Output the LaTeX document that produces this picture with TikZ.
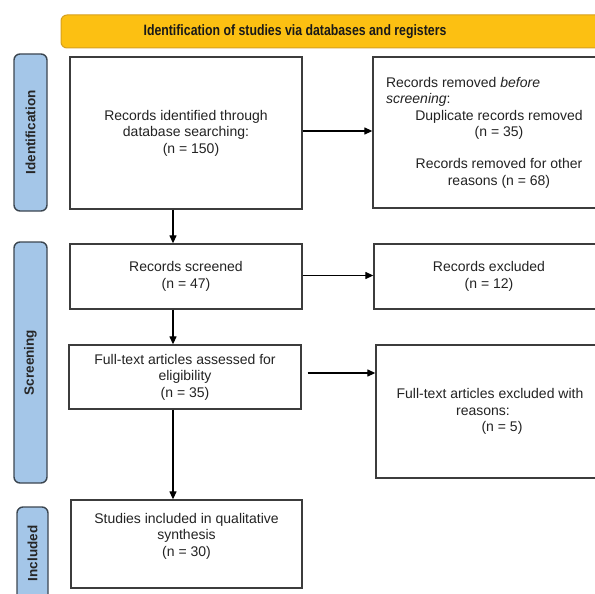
\documentclass[tikz,border=0pt]{standalone}
\usepackage{fontspec}
\usepackage{graphicx}
\setmainfont{Liberation Sans}
\usetikzlibrary{arrows.meta}
\definecolor{bannerfill}{RGB}{252,192,18}
\definecolor{bannerline}{RGB}{214,160,30}
\definecolor{labelfill}{RGB}{164,198,232}
\definecolor{labelline}{RGB}{60,70,80}
\definecolor{boxline}{RGB}{60,60,60}
\definecolor{txtcol}{RGB}{35,35,35}
\begin{document}
\begin{tikzpicture}[x=1pt,y=-1pt,
  box/.style={draw=boxline, line width=1.3pt, fill=white, inner sep=0pt},
  boxtext/.style={text=txtcol, font=\fontsize{14}{16.5}\selectfont, align=center, inner sep=0pt},
  phase/.style={draw=labelline, fill=labelfill, line width=1.4pt, rounded corners=6pt, inner sep=0pt},
  phasetext/.style={rotate=90, font=\bfseries\fontsize{13.5}{16}\selectfont, text=black!85, inner sep=0pt},
  arr/.style={line width=1.2pt, -{Triangle[length=8pt,width=7pt]}},
]
\useasboundingbox (0,0) rectangle (595,594);

% banner
\node[draw=bannerline, fill=bannerfill, line width=1pt, rounded corners=6pt,
      minimum width=580pt, minimum height=33pt, inner sep=0pt] (banner) at (351,31.5) {};
\node[font=\bfseries\fontsize{15}{17}\selectfont, text=black!90, inner sep=0pt] (bannertext) at (295,31.5)
  {\scalebox{0.82}[1]{Identification of studies via databases and registers}};

% phase labels
\node[phase, minimum width=33pt, minimum height=157pt] (lid) at (30.5,132.5) {};
\node[phasetext] (lidt) at (lid.center) {Identification};
\node[phase, minimum width=33pt, minimum height=241pt] (lscr) at (30.5,362.5) {};
\node[phasetext] (lscrt) at (lscr.center) {Screening};
\node[phase, minimum width=31pt, minimum height=93pt] (linc) at (32.5,553.5) {};
\node[phasetext] (linct) at (linc.center) {Included};

% boxes
\node[box, minimum width=232pt, minimum height=152pt] (b1) at (186,133) {};
\node[boxtext] (b1t) at (b1.center) {Records identified through\\database searching:\\\mbox{\hspace{10pt}(n = 150)}};

\node[box, minimum width=252pt, minimum height=151pt] (r1) at (499,132.5) {};
\node[text=txtcol, font=\fontsize{14}{16.5}\selectfont, inner sep=0pt] (r1t) at (r1.center)
  {\parbox{226pt}{\raggedright Records removed \textit{before}\\\textit{screening}:\par
   \centering Duplicate records removed\\(n = 35)\\[15.5pt]Records removed for other\\reasons (n = 68)}};

\node[box, minimum width=232pt, minimum height=65pt] (scr) at (186,276.5) {};
\node[boxtext] (scrt) at (scr.center) {Records screened\\(n = 47)};

\node[box, minimum width=230pt, minimum height=65pt] (excl) at (489,276.5) {};
\node[boxtext] (exclt) at (excl.center) {Records excluded\\(n = 12)};

\node[box, minimum width=232pt, minimum height=64pt] (elig) at (185,377) {};
\node[boxtext] (eligt) at (elig.center) {Full-text articles assessed for\\eligibility\\(n = 35)};

\node[box, minimum width=228pt, minimum height=133pt] (fexcl) at (490,411.5) {};
\node[boxtext] (fexclt) at (fexcl.center) {Full-text articles excluded with\\\mbox{reasons:\hspace{14pt}}\\\mbox{\hspace{24pt}(n = 5)}};

\node[box, minimum width=231pt, minimum height=88pt] (incl) at (186.5,544) {};
\node[boxtext] (inclt) at (186.5,536) {Studies included in qualitative\\synthesis\\(n = 30)};

% connectors
\coordinate (ax) at (173,0);
\coordinate (s1) at ([yshift=2pt]b1.east);
\coordinate (s2) at ([yshift=1pt]scr.east);
\coordinate (s3) at ([xshift=6pt,yshift=4pt]elig.east);
\draw[arr] (b1.south -| ax) -- (scr.north -| ax);
\draw[arr] (scr.south -| ax) -- (elig.north -| ax);
\draw[arr] (elig.south -| ax) -- (incl.north -| ax);
\draw[arr] (s1) -- (r1.west |- s1);
\draw[arr] (s2) -- (excl.west |- s2);
\draw[arr] (s3) -- (fexcl.west |- s3);
\end{tikzpicture}
\end{document}
